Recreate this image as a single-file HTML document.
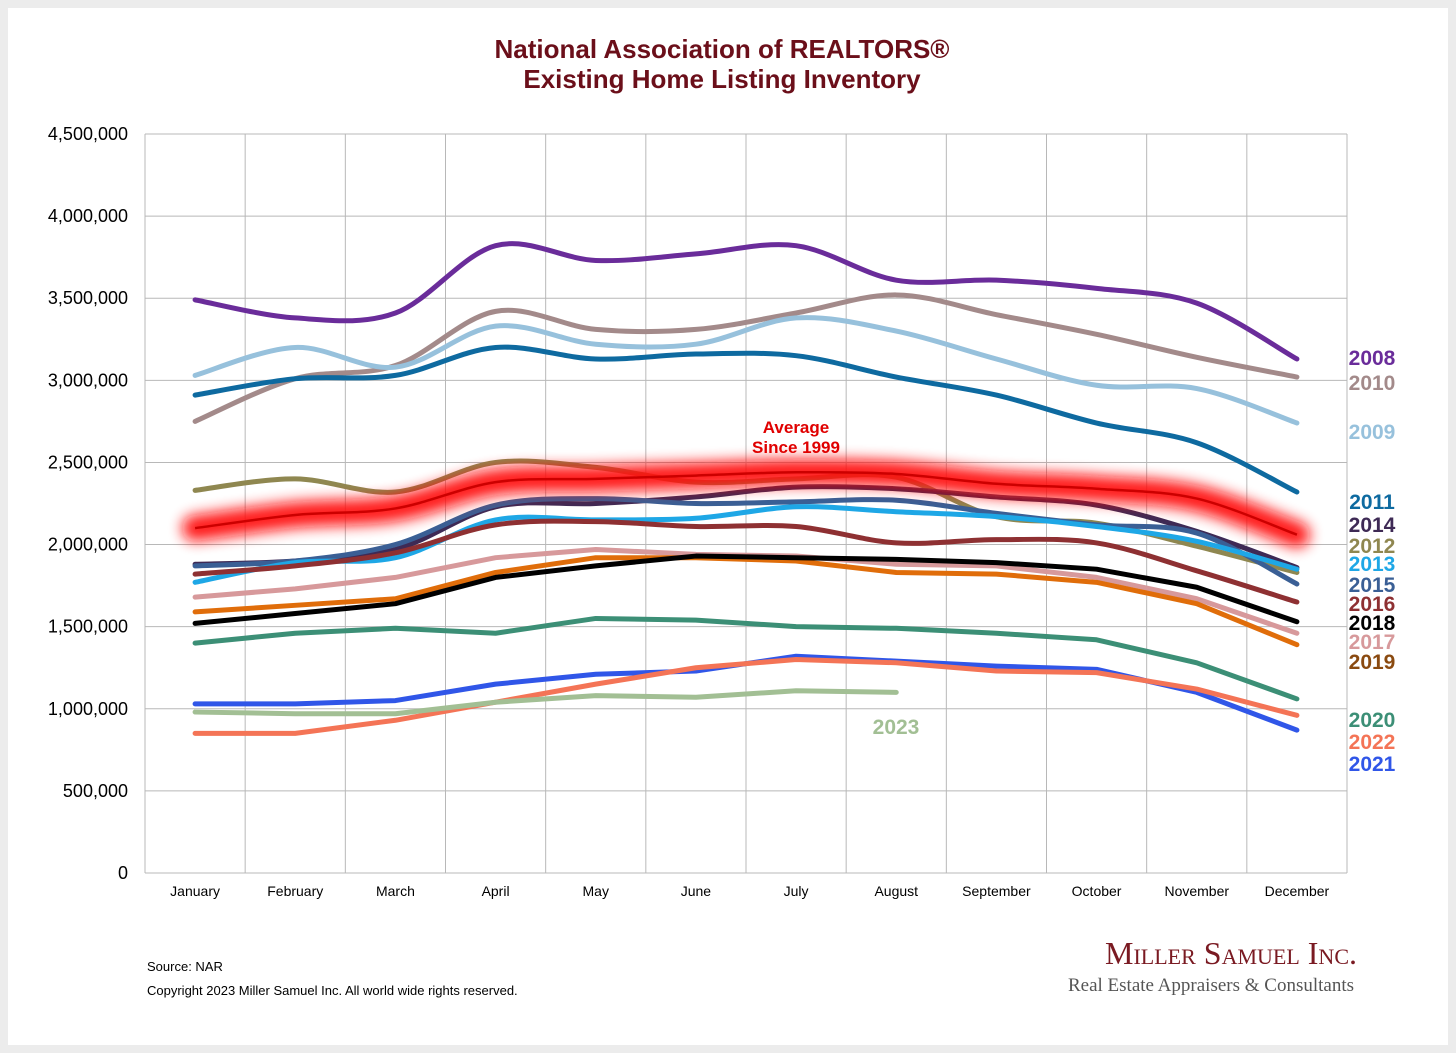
<!DOCTYPE html>
<html><head><meta charset="utf-8"><style>
html,body{margin:0;padding:0;background:#ececec;}
#wrap{position:absolute;left:8px;top:8px;width:1440px;height:1037px;background:#fff;}
svg text{font-family:"Liberation Sans",Arial,sans-serif;}
</style></head><body>
<div id="wrap"></div>
<svg id="chart" width="1456" height="1053" style="position:absolute;left:0;top:0">
<defs><filter id="glow" x="-10%" y="-50%" width="120%" height="200%"><feGaussianBlur stdDeviation="7"/></filter></defs>
<text x="722" y="58" text-anchor="middle" font-size="26" font-weight="bold" fill="#6b0f1a">National Association of REALTORS®</text>
<text x="722" y="88" text-anchor="middle" font-size="26" font-weight="bold" fill="#6b0f1a">Existing Home Listing Inventory</text>
<g id="grid"></g><g id="lines"></g><g id="labels"></g>
<text x="147" y="971" font-size="13" fill="#000">Source: NAR</text>
<text x="147" y="995" font-size="13" fill="#000">Copyright 2023 Miller Samuel Inc.  All world wide rights reserved.</text>
<text x="1357" y="964" text-anchor="end" font-size="32" fill="#7a1a22" style="font-family:'Liberation Serif',serif;font-variant:small-caps">Miller Samuel Inc.</text>
<text x="1354" y="991" text-anchor="end" font-size="19" fill="#555" style="font-family:'Liberation Serif',serif">Real Estate Appraisers &amp; Consultants</text>
</svg>
<script>
const months=["January","February","March","April","May","June","July","August","September","October","November","December"];
const yTicks=[0,500000,1000000,1500000,2000000,2500000,3000000,3500000,4000000,4500000];
const s2008=[3490,3380,3410,3820,3730,3770,3820,3610,3610,3560,3470,3130];
const s2010=[2750,3010,3090,3420,3310,3310,3410,3520,3400,3280,3140,3020];
const s2009=[3030,3200,3080,3330,3220,3220,3380,3300,3130,2970,2950,2740];
const s2011=[2910,3010,3030,3200,3130,3160,3150,3020,2910,2740,2620,2320];
const s2012=[2330,2400,2320,2500,2470,2380,2400,2410,2170,2130,1990,1830];
const s2014=[1880,1900,1970,2230,2250,2290,2350,2340,2290,2240,2080,1860];
const s2015=[1870,1900,2000,2240,2280,2250,2260,2270,2190,2120,2070,1760];
const s2013=[1770,1890,1920,2150,2150,2160,2230,2200,2170,2110,2020,1850];
const s2016=[1820,1870,1950,2120,2140,2110,2110,2010,2030,2010,1840,1650];
const s2017=[1680,1730,1800,1920,1970,1940,1930,1880,1870,1800,1670,1460];
const s2018=[1520,1580,1640,1800,1870,1930,1920,1910,1890,1850,1740,1530];
const s2019=[1590,1630,1670,1830,1920,1920,1900,1830,1820,1770,1640,1390];
const s2020=[1400,1460,1490,1460,1550,1540,1500,1490,1460,1420,1280,1060];
const s2021=[1030,1030,1050,1150,1210,1230,1320,1290,1260,1240,1100,870];
const s2022=[850,850,930,1040,1150,1250,1300,1280,1230,1220,1120,960];
const s2023=[980,970,970,1040,1080,1070,1110,1100];
const avg=[2100,2180,2220,2380,2400,2420,2440,2430,2370,2340,2280,2060];
const series=[
 ["2008",s2008,"#6a2c9a",357,1],["2010",s2010,"#a38a8a",382,1],["2009",s2009,"#97c1dc",431,1],["2011",s2011,"#0e6aa0",501,1],
 ["2012",s2012,"#8f8750",545,1],["2014",s2014,"#3e2a55",524,1],["2015",s2015,"#3a5f95",584,1],["2013",s2013,"#1ea7e6",563,1],
 ["2016",s2016,"#8e3032",603,1],["2017",s2017,"#d7999b",641,0],["2018",s2018,"#000000",622,0],["2019",s2019,"#e06d0a",661,0],
 ["2020",s2020,"#3c8f76",719,0],["2021",s2021,"#3056e8",763,0],["2022",s2022,"#f47456",741,0],["2023",s2023,"#a2bf94",null,0]];
const labelColors={"2019":"#8a4a10","2013":"#1ea7e6"};
const X0=145,X1=1347,Y0=873,Y1=134,MAX=4500000;
const xs=i=>X0+(X1-X0)/12*(i+0.5);
const ys=v=>Y0-(v/MAX)*(Y0-Y1);
const NS="http://www.w3.org/2000/svg";
function mk(t,a,p){const e=document.createElementNS(NS,t);for(const k in a)e.setAttribute(k,a[k]);p.appendChild(e);return e;}
const grid=document.getElementById("grid"),lines=document.getElementById("lines"),labels=document.getElementById("labels");
for(const t of yTicks){
 const g=mk("line",{x1:X0,x2:X1,y1:ys(t),y2:ys(t),stroke:"#b8b8b8","stroke-width":1},grid);
 
 
 const l=mk("text",{x:128,y:ys(t)+6,"text-anchor":"end","font-size":18},grid);l.textContent=t.toLocaleString("en-US");
 
 
}
for(let i=0;i<=12;i++){
 const x=X0+(X1-X0)/12*i;
 const g=mk("line",{x1:x,x2:x,y1:Y1,y2:Y0,stroke:"#b8b8b8","stroke-width":1},grid);
 
 
}
months.forEach((m,i)=>{const t=mk("text",{x:xs(i),y:896,"text-anchor":"middle","font-size":14},grid);t.textContent=m;
 
 });
function path(vals,smooth){
 const p=vals.map((v,i)=>[xs(i),ys(v*1000)]);
 let d="M"+p[0][0]+","+p[0][1];
 for(let i=0;i<p.length-1;i++){
  if(!smooth){d+=` L${p[i+1][0]},${p[i+1][1]}`;continue;}
  const a=p[Math.max(0,i-1)],b=p[i],c=p[i+1],e=p[Math.min(p.length-1,i+2)];
  const c1=[b[0]+(c[0]-a[0])/6,b[1]+(c[1]-a[1])/6],c2=[c[0]-(e[0]-b[0])/6,c[1]-(e[1]-b[1])/6];
  d+=` C${c1[0]},${c1[1]} ${c2[0]},${c2[1]} ${c[0]},${c[1]}`;
 }
 return d;
}
const order=["2008","2010","2009","2011","2012","2014","2015","2013","2016","2017","2019","2018","2020","2021","2022","2023"];
order.forEach(n=>{const s=series.find(q=>q[0]===n);
 const p=mk("path",{d:path(s[1],s[4]),fill:"none",stroke:s[2],"stroke-width":5,"stroke-linecap":"round","stroke-linejoin":"round"},lines);
 
 
 if(s[3]){const t=mk("text",{x:1372,y:s[3]+8,"text-anchor":"middle","font-size":21,"font-weight":"bold",fill:labelColors[s[0]]||s[2]},labels);t.textContent=s[0];
  
  }
});
const gl=mk("path",{d:path(avg,1),fill:"none",stroke:"#ff1010","stroke-width":26,"stroke-linecap":"round",filter:"url(#glow)",opacity:0.95},lines);


const al=mk("path",{d:path(avg,1),fill:"none",stroke:"#cc0000","stroke-width":2.5},lines);


const a1=mk("text",{x:796,y:433,"text-anchor":"middle","font-size":17,"font-weight":"bold",fill:"#e00000"},labels);a1.textContent="Average";


const a2=mk("text",{x:796,y:453,"text-anchor":"middle","font-size":17,"font-weight":"bold",fill:"#e00000"},labels);a2.textContent="Since 1999";


const l23=mk("text",{x:896,y:734,"text-anchor":"middle","font-size":21,"font-weight":"bold",fill:"#a2bf94"},labels);l23.textContent="2023";


</script>
</body></html>
